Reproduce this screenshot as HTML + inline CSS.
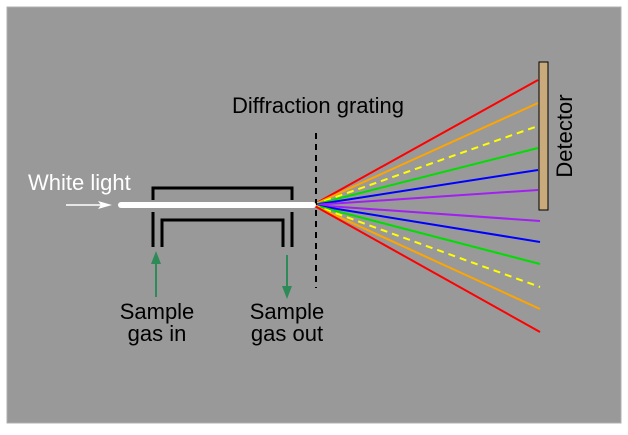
<!DOCTYPE html>
<html><head><style>body{margin:0;background:#fff}</style></head><body>
<svg width="628" height="430" xmlns="http://www.w3.org/2000/svg" font-family="Liberation Sans, sans-serif">
<rect x="7" y="7" width="614" height="416" fill="#999" stroke="#b0b0b0" stroke-width="1"/>
<g stroke-width="2">
<line x1="313" y1="205" x2="538" y2="80" stroke="#f00"/>
<line x1="313" y1="205" x2="538" y2="103" stroke="#ffa500"/>
<line x1="313" y1="205" x2="538" y2="126" stroke="#ff0" stroke-dasharray="7,5"/>
<line x1="313" y1="205" x2="538" y2="148" stroke="#0d0"/>
<line x1="313" y1="205" x2="538" y2="170" stroke="#00f"/>
<line x1="313" y1="205" x2="538" y2="190" stroke="#a020f0"/>
<line x1="313" y1="205" x2="540" y2="221" stroke="#a020f0"/>
<line x1="313" y1="205" x2="540" y2="242" stroke="#00f"/>
<line x1="313" y1="205" x2="540" y2="264" stroke="#0d0"/>
<line x1="313" y1="205" x2="540" y2="287" stroke="#ff0" stroke-dasharray="7,5"/>
<line x1="313" y1="205" x2="540" y2="309" stroke="#ffa500"/>
<line x1="313" y1="205" x2="540" y2="332" stroke="#f00"/>
</g>
<rect x="539" y="62" width="9" height="148" fill="#c8aa7d" stroke="#000" stroke-width="1"/>
<line x1="316" y1="133" x2="316" y2="288" stroke="#000" stroke-width="2" stroke-dasharray="6,5"/>
<g stroke="#000" stroke-width="3" fill="none">
<polyline points="153,200 153,188 292,188 292,200"/>
<line x1="153" y1="212" x2="153" y2="247"/>
<line x1="292" y1="212" x2="292" y2="247"/>
<polyline points="162,247 162,220 283,220 283,247"/>
</g>
<line x1="121" y1="205" x2="313" y2="205" stroke="#fff" stroke-width="6" stroke-linecap="round"/>
<line x1="66" y1="205" x2="102" y2="205" stroke="#fff" stroke-width="1.5"/>
<polygon points="112,205 98,201 101,205 98,209" fill="#fff"/>
<g stroke="#2e8b57" stroke-width="2" fill="#2e8b57">
<line x1="156" y1="297" x2="156" y2="262"/>
<polygon points="156,251 151,264 161,264" stroke="none"/>
<line x1="287" y1="255" x2="287" y2="288"/>
<polygon points="287,299 282,286 292,286" stroke="none"/>
</g>
<g font-size="22" fill="#000">
<text x="28" y="190" fill="#fff">White light</text>
<text x="232" y="113">Diffraction grating</text>
<text x="157" y="319" text-anchor="middle">Sample</text>
<text x="157" y="341" text-anchor="middle">gas in</text>
<text x="287" y="319" text-anchor="middle">Sample</text>
<text x="287" y="341" text-anchor="middle">gas out</text>
<text transform="translate(572,136) rotate(-90)" text-anchor="middle">Detector</text>
</g>
</svg>
</body></html>
